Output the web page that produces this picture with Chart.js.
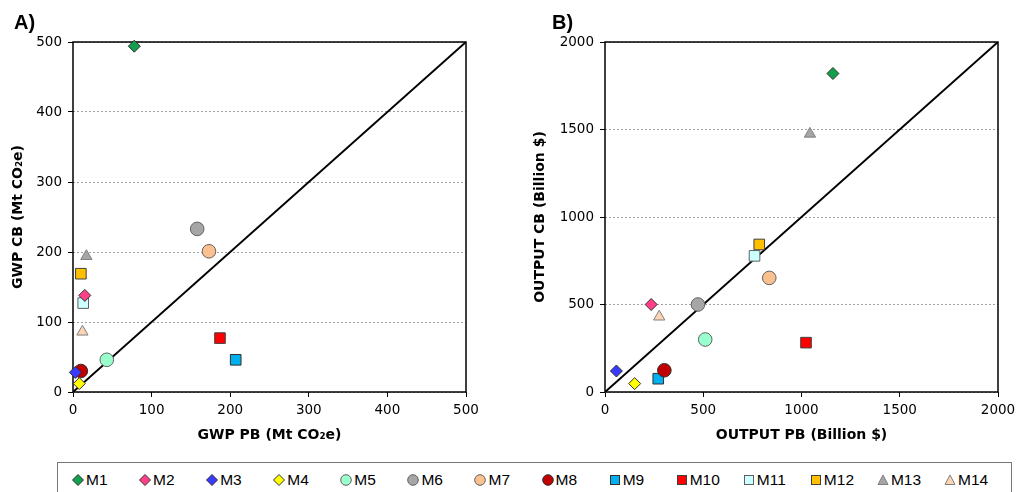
<!DOCTYPE html>
<html>
<head>
<meta charset="utf-8">
<script src="https://cdn.jsdelivr.net/npm/chart.js@4.4.0/dist/chart.umd.min.js"></script>
<style>
  body { margin: 0; background: #fff; width: 1019px; height: 492px; position: relative; overflow: hidden; }
  .wrap { position: absolute; top: 0; height: 450px; }
  #wrapA { left: 0; width: 480px; }
  #wrapB { left: 510px; width: 509px; }
  .panel-label { position: absolute; font: bold 20px 'Liberation Sans', Arial, sans-serif; line-height: 20px; }
  #legend {
    position: absolute; left: 57px; top: 462px; width: 955px; height: 40px;
    border: 1px solid #777; box-sizing: border-box; display: flex; padding-left: 14px; padding-top: 8px;
    font: 15.5px 'Liberation Sans', Arial, sans-serif;
  }
  .item { width: 67.4px; display: flex; align-items: center; height: 17px; }
  .item svg { margin-right: 2px; }
</style>
</head>
<body>
<div class="wrap" id="wrapA"><canvas id="chartA"></canvas></div>
<div class="wrap" id="wrapB"><canvas id="chartB"></canvas></div>
<div class="panel-label" style="left:14px;top:12px">A)</div>
<div class="panel-label" style="left:552px;top:12px">B)</div>
<div id="legend"></div>

<script>
// Datos
const models = ['M1', 'M2', 'M3', 'M4', 'M5', 'M6', 'M7', 'M8', 'M9', 'M10', 'M11', 'M12', 'M13', 'M14'];
const gwpPB = [78, 15, 3, 8, 43, 158, 173, 10, 207, 187, 13, 10, 17, 12];
const gwpCB = [494, 138, 28, 12, 46, 233, 201, 30, 46, 77, 127, 169, 194, 86];
const outputPB = [1160, 235, 58, 151, 510, 473, 836, 302, 271, 1023, 761, 785, 1043, 276];
const outputCB = [1820, 500, 120, 48, 300, 500, 652, 124, 76, 282, 778, 843, 1475, 430];
const gwpTicks = [0, 100, 200, 300, 400, 500];
const outputTicks = [0, 500, 1000, 1500, 2000];

// Estilos de los marcadores
const fills = ['#12a04f', '#ff4088', '#3a3aff', '#ffff00', '#99ffcc', '#a6a6a6', '#fac090',
  '#c00000', '#00b0f0', '#ff0000', '#ccffff', '#ffc000', '#a6a6a6', '#fcd5b4'];
const strokes = ['#303030', '#303030', '#303030', '#303030', '#606060', '#606060', '#606060',
  '#303030', '#303030', '#404040', '#606060', '#404040', '#7f7f7f', '#7f7f7f'];
const shapes = ['rectRot', 'rectRot', 'rectRot', 'rectRot', 'circle', 'circle', 'circle', 'circle',
  'rect', 'rect', 'rect', 'rect', 'triangle', 'triangle'];
const radius = { rectRot: 6, circle: 6.8, rect: 7.5, triangle: 6.5 };

// Marco negro alrededor del área de trazado
const boxPlugin = {
  id: 'box',
  beforeDatasetsDraw(chart) {
    const a = chart.chartArea;
    const ctx = chart.ctx;
    ctx.save();
    ctx.strokeStyle = '#000';
    ctx.lineWidth = 1.5;
    ctx.strokeRect(a.left, a.top, a.right - a.left, a.bottom - a.top);
    ctx.restore();
  }
};

function buildChart(id, xs, ys, ticks, xTitle, yTitle, yWidth, rightPad, yTitlePad) {
  const max = ticks[ticks.length - 1];
  const datasets = models.map((m, i) => ({
    label: m,
    data: [{ x: xs[i], y: ys[i] }],
    pointStyle: shapes[i],
    pointRadius: radius[shapes[i]],
    backgroundColor: fills[i],
    borderColor: strokes[i],
    borderWidth: 1,
    clip: false
  }));
  datasets.push({
    label: '1:1',
    data: [{ x: 0, y: 0 }, { x: max, y: max }],
    showLine: true,
    borderColor: '#000',
    borderWidth: 2,
    pointRadius: 0,
    order: 100
  });

  const tickFont = { family: "'DejaVu Sans', Verdana, sans-serif", size: 13.5 };
  const titleFont = { family: "'DejaVu Sans', Verdana, sans-serif", size: 14, weight: 'bold' };
  const plain = v => String(v);

  return new Chart(document.getElementById(id), {
    type: 'scatter',
    data: { datasets: datasets },
    options: {
      responsive: true,
      maintainAspectRatio: false,
      animation: false,
      layout: { padding: { top: 42, right: rightPad, left: 0, bottom: 0 } },
      plugins: { legend: { display: false }, tooltip: { enabled: false } },
      scales: {
        x: {
          type: 'linear',
          min: 0,
          max: max,
          afterBuildTicks: s => { s.ticks = ticks.map(v => ({ value: v })); },
          afterFit: s => { s.height = 58; s.paddingLeft = 0; s.paddingRight = 0; },
          ticks: { font: tickFont, color: '#000', padding: 5, maxRotation: 0, callback: plain },
          grid: { drawOnChartArea: false, drawTicks: true, tickLength: 5, tickColor: '#000' },
          border: { display: false },
          title: { display: true, text: xTitle, font: titleFont, color: '#000', padding: { top: 0, bottom: 6 } }
        },
        y: {
          type: 'linear',
          min: 0,
          max: max,
          afterBuildTicks: s => { s.ticks = ticks.map(v => ({ value: v })); },
          afterFit: s => { s.width = yWidth; s.paddingTop = 0; s.paddingBottom = 0; },
          ticks: { font: tickFont, color: '#000', padding: 6, callback: plain },
          grid: { color: '#a0a0a0', lineWidth: 1, tickLength: 5, tickColor: '#000' },
          border: { display: false, dash: [2, 2] },
          title: { display: true, text: yTitle, font: titleFont, color: '#000', padding: { top: yTitlePad, bottom: 0 } }
        }
      }
    },
    plugins: [boxPlugin]
  });
}

buildChart('chartA', gwpPB, gwpCB, gwpTicks, 'GWP PB (Mt CO₂e)', 'GWP CB (Mt CO₂e)', 73, 14, 10);
buildChart('chartB', outputPB, outputCB, outputTicks, 'OUTPUT PB (Billion $)', 'OUTPUT CB (Billion $)', 95, 21, 22);

// Leyenda común
function markerSvg(i) {
  const f = fills[i], s = strokes[i];
  let shape;
  if (shapes[i] === 'rectRot') shape = `<polygon points="6,0.5 11.5,6 6,11.5 0.5,6" fill="${f}" stroke="${s}"/>`;
  else if (shapes[i] === 'circle') shape = `<circle cx="6" cy="6" r="5.3" fill="${f}" stroke="${s}"/>`;
  else if (shapes[i] === 'rect') shape = `<rect x="1.5" y="1.5" width="9" height="9" fill="${f}" stroke="${s}"/>`;
  else shape = `<polygon points="6,1 11,10.5 1,10.5" fill="${f}" stroke="${s}"/>`;
  return `<svg width="12" height="12" viewBox="0 0 12 12">${shape}</svg>`;
}
const legend = document.getElementById('legend');
models.forEach((m, i) => {
  const item = document.createElement('div');
  item.className = 'item';
  item.innerHTML = markerSvg(i) + '<span>' + m + '</span>';
  legend.appendChild(item);
});
</script>
</body>
</html>
